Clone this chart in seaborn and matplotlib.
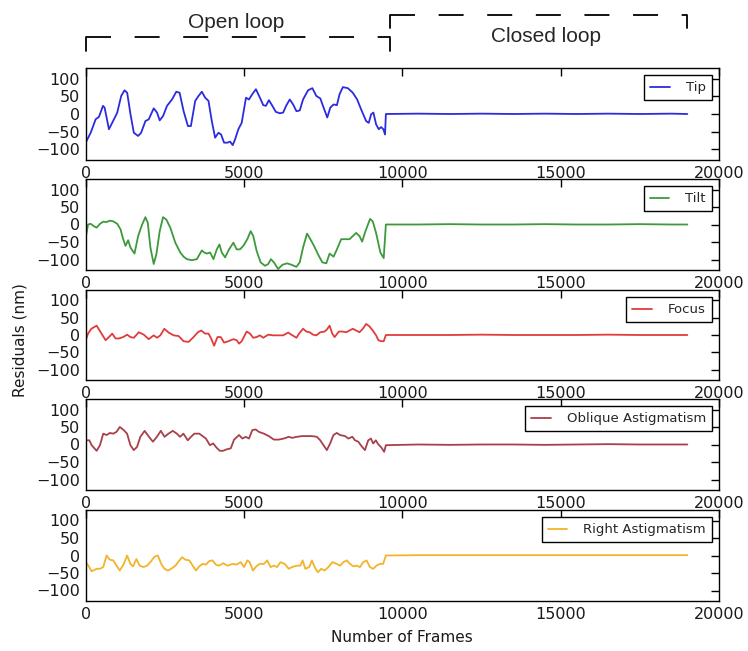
import matplotlib
matplotlib.use("Agg")
import matplotlib.pyplot as plt
import matplotlib.transforms as mtransforms
from matplotlib.lines import Line2D
import seaborn as sns
import pandas as pd

# ---------------- data ----------------
tip_frames = [0,157,314,419,545,597,734,943,996,1121,1226,1310,1415,1520,1656,1750,1886,1991,2148,2253,
              2337,2442,2568,2725,2861,2966,3092,3228,3322,3458,3563,3668,3773,3878,3982,4087,4192,4276,4370,4475,
              4559,4643,4716,4821,4926,5062,5156,5261,5376,5502,5607,5691,5785,5869,6005,6131,6236,6340,6445,6550,
              6655,6760,6864,7022,7158,7284,7409,7493,7629,7724,7829,7933,8017,8122,8279,8436,8573,8698,8856,8939,
              9013,9086,9170,9254,9327,9401,9453]
tip_values = [-81,-53,-15,-8,23,18,-43,-6,4,51,67,60,-1,-53,-62,-53,-20,-15,16,4,
              -18,-6,23,41,63,60,8,-34,-34,37,51,63,46,37,-20,-67,-53,-58,-81,-81,
              -78,-88,-72,-43,-25,46,41,56,70,46,25,23,39,27,6,2,4,25,41,27,
              8,10,41,67,73,51,44,23,-10,18,27,25,56,76,73,60,41,13,-20,-25,
              -1,4,-29,-43,-37,-43,-58]

tilt_frames = [0,73,157,262,346,451,555,660,765,870,996,1100,1184,1258,1341,1415,1541,1656,1782,1886,
               1960,2044,2148,2232,2337,2442,2547,2672,2830,2987,3092,3196,3354,3511,3668,3741,3825,3930,4035,4140,
               4223,4297,4402,4527,4664,4768,4873,4978,5104,5209,5292,5397,5523,5659,5764,5848,5942,6078,6215,6361,
               6498,6655,6760,6864,6990,7095,7210,7336,7472,7598,7703,7829,7933,8070,8174,8332,8436,8541,8646,8730,
               8835,8981,9065,9170,9306,9411]
tilt_values = [-38,0,2,-5,-9,2,8,7,11,9,2,-14,-42,-61,-45,-66,-83,-33,0,21,
               5,-66,-113,-85,-19,21,14,-9,-52,-80,-92,-99,-102,-99,-74,-80,-83,-80,-99,-71,
               -57,-80,-94,-71,-52,-71,-71,-61,-42,-19,-33,-75,-108,-118,-113,-99,-108,-127,-115,-111,
               -115,-121,-108,-66,-26,-42,-61,-85,-108,-111,-83,-92,-71,-42,-42,-42,-33,-24,-33,-49,
               -19,16,9,-24,-80,-96]

focus_frames = [0,73,178,346,472,629,734,838,943,1048,1184,1310,1415,1520,1677,1834,1991,2148,2253,2358,
                2484,2620,2777,2934,3092,3249,3406,3542,3647,3773,3878,3961,4056,4161,4265,4370,4506,4664,4768,4842,
                4926,5083,5188,5292,5397,5502,5607,5764,5921,6078,6236,6393,6529,6655,6739,6864,6969,7074,7179,7284,
                7409,7546,7619,7703,7787,7860,7996,8101,8227,8332,8436,8541,8646,8751,8856,8960,9065,9170,9243,9327,
                9411]
focus_values = [-15,4,18,27,8,-15,-6,4,-10,-10,-6,1,-6,-8,8,1,-12,-1,-8,-1,
                18,7,-1,-3,-18,-20,-6,8,13,4,4,-10,-31,-6,-6,-22,-18,-12,-15,-25,
                -18,10,4,-8,-6,-1,-8,1,-1,-1,-1,7,-1,-8,4,18,10,8,1,-1,
                8,10,16,27,4,-6,10,10,8,13,18,13,8,18,32,25,13,-1,-15,-18,
                -18]

oblique_frames = [0,115,188,345,450,554,659,764,868,973,1077,1203,1307,1412,1517,1621,1726,1862,1998,2123,
                  2249,2374,2489,2615,2751,2877,2981,3086,3222,3326,3431,3588,3692,3797,3922,4027,4132,4236,4341,4446,
                  4581,4686,4843,4948,5052,5157,5261,5366,5471,5627,5784,5941,6098,6255,6412,6517,6673,6830,6987,7144,
                  7301,7406,7510,7615,7720,7824,7929,8034,8191,8295,8421,8504,8609,8713,8818,8923,9006,9079,9163,9236,
                  9341,9425]
oblique_values = [12,12,-2,-18,-2,31,27,33,31,36,50,41,31,-2,-16,-7,22,39,22,8,
                  22,39,22,31,39,31,22,31,12,22,31,31,24,17,-2,3,-9,-18,-18,-14,
                  -11,14,27,17,22,17,41,43,36,31,24,14,14,17,22,19,22,24,24,24,
                  22,12,-2,-16,3,27,33,27,24,17,22,12,8,-5,-16,12,17,3,12,1,
                  -9,-21]

right_frames = [0,84,188,345,450,554,659,764,868,973,1077,1203,1307,1412,1496,1600,1705,1830,1935,2040,
                2176,2280,2385,2489,2594,2699,2835,2960,3044,3148,3274,3379,3483,3588,3692,3797,3902,4006,4111,4215,
                4341,4477,4634,4759,4895,5000,5105,5178,5282,5387,5492,5627,5732,5837,5941,6046,6150,6286,6412,6517,
                6673,6778,6851,6935,7061,7144,7228,7333,7437,7542,7667,7793,7929,8034,8138,8243,8348,8452,8557,8661,
                8766,8870,8975,9079,9184,9289,9393]
right_values = [-19,-29,-45,-38,-38,-33,0,-12,-14,-29,-43,-24,0,-24,-31,-10,-29,-33,-29,-19,
                -3,0,-24,-38,-43,-38,-29,-14,-5,-12,-14,-29,-43,-31,-24,-26,-16,-14,-26,-29,
                -22,-29,-24,-26,-19,-33,-14,-19,-43,-31,-24,-24,-14,-33,-29,-33,-19,-24,-38,-33,
                -29,-29,-14,-38,-33,-14,-33,-48,-38,-43,-33,-19,-24,-29,-19,-14,-24,-31,-29,-33,
                -19,-14,-33,-38,-29,-24,-24]

# closed-loop part (after the loop is closed)
closed_frames = [9480, 10500, 11500, 12500, 13500, 14500, 15500, 16500, 17500, 18500, 19000]
tip_closed = [0, 1, 0, 1, 0, 1, 0, 1, 0, 1, 0]
tilt_closed = [0, 0, 1, 0, 0, 1, 0, 0, 1, 0, 0]
focus_closed = [0, 0, 0, 1, 0, 0, 0, 1, 0, 0, 0]
oblique_closed = [-2, 0, -1, 0, 0, -1, 0, 1, 0, 0, 0]
right_closed = [0, 1, 1, 1, 1, 1, 1, 1, 1, 1, 1]

series_names = ["Tip", "Tilt", "Focus", "Oblique Astigmatism", "Right Astigmatism"]
series_colors = ["#2b2be0", "#3c9a3c", "#e03c3c", "#a8404a", "#f2b42a"]

x_ticks = [0, 5000, 10000, 15000, 20000]
y_ticks = [-100, -50, 0, 50, 100]

# ---------------- plotting ----------------
sns.set_theme(style="white")
plt.rcParams['font.family'] = ['DejaVu Sans']

W, H = 748, 651
fig = plt.figure(figsize=(W / 100, H / 100), dpi=100)

left_px, right_px = 85.7, 719
tops = [68, 179, 290, 399, 510]
bottoms = [160, 270, 380, 490, 601]

open_data = [(tip_frames, tip_values, tip_closed),
             (tilt_frames, tilt_values, tilt_closed),
             (focus_frames, focus_values, focus_closed),
             (oblique_frames, oblique_values, oblique_closed),
             (right_frames, right_values, right_closed)]

axes = []
for i, ((fr, vals, cl), name, col) in enumerate(zip(open_data, series_names, series_colors)):
    ax = fig.add_axes([left_px / W, 1 - bottoms[i] / H,
                       (right_px - left_px) / W, (bottoms[i] - tops[i]) / H])
    df = pd.DataFrame({"frame": list(fr) + closed_frames,
                       "res": list(vals) + cl})
    sns.lineplot(data=df, x="frame", y="res", ax=ax, color=col, lw=1.3,
                 label=name, estimator=None, sort=False)
    ax.set_xlim(0, 20000)
    ax.set_ylim(-130, 130)
    ax.set_xticks(x_ticks)
    ax.set_yticks(y_ticks)
    ax.set_xlabel("")
    ax.set_ylabel("")
    ax.tick_params(direction="in", top=True, right=True, length=5.5, width=1,
                   labelsize=11.5, colors="black", labelcolor="#1a1a1a", pad=4)
    for sp in ax.spines.values():
        sp.set_color("black")
        sp.set_linewidth(1.0)
    leg = ax.legend(loc="upper right", fontsize=9.5, frameon=True, fancybox=False,
                    edgecolor="black", framealpha=1, handlelength=1.5,
                    handletextpad=1.2, borderpad=0.45, borderaxespad=0.55)
    leg.get_frame().set_linewidth(1.0)
    axes.append(ax)

fig.text(20 / W, 1 - 340 / H, "Residuals (nm)", rotation=90, ha="center", va="center",
         fontsize=11, color="#1a1a1a")
fig.text(402 / W, 1 - 637 / H, "Number of Frames", ha="center", va="center",
         fontsize=11, color="#1a1a1a")

# open / closed loop brackets
ax1 = axes[0]
trans = mtransforms.blended_transform_factory(ax1.transData, fig.transFigure)
open_start, loop_switch, closed_end = 0, 9600, 19000
y_open_top, y_open_bot = 1 - 37 / H, 1 - 51 / H
y_cl_top, y_cl_bot = 1 - 15 / H, 1 - 28 / H
lw_b = 1.3
dash = (0, (18 / lw_b, 17 / lw_b))
for xs, ys, ls in [
    ([open_start, open_start], [y_open_bot, y_open_top], "-"),
    ([open_start, loop_switch], [y_open_top, y_open_top], dash),
    ([loop_switch, loop_switch], [y_open_top, y_open_bot], "-"),
    ([loop_switch, loop_switch], [y_cl_bot, y_cl_top], "-"),
    ([loop_switch, closed_end], [y_cl_top, y_cl_top], dash),
    ([closed_end, closed_end], [y_cl_top, y_cl_bot], "-"),
]:
    fig.add_artist(Line2D(xs, ys, transform=trans, color="black", lw=lw_b, linestyle=ls))

fig.text(4750, 1 - 22 / H, "Open loop", transform=trans,
         ha="center", va="center", fontsize=15, family=["Liberation Sans", "DejaVu Sans"])
fig.text(14550, 1 - 37 / H, "Closed loop", transform=trans,
         ha="center", va="center", fontsize=15, family=["Liberation Sans", "DejaVu Sans"])

fig.savefig("out.png", dpi=100, facecolor="white")
